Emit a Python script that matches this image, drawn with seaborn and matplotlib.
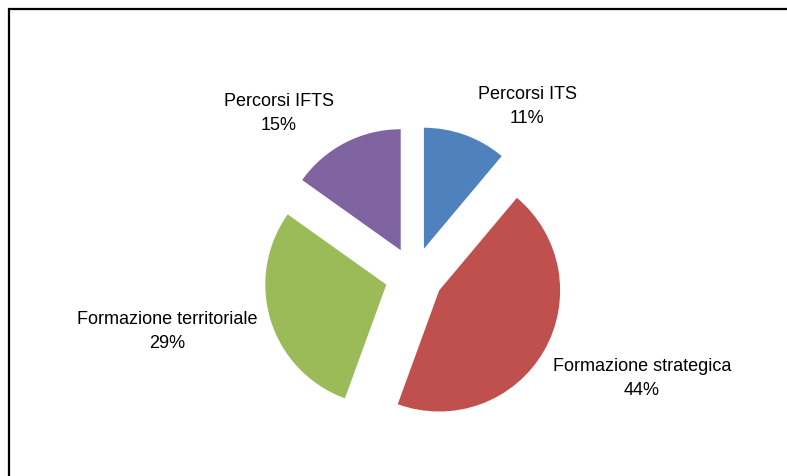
import numpy as np
import seaborn as sns
import matplotlib.pyplot as plt
from matplotlib.patches import Rectangle

# shares of the courses
categories = ["Percorsi ITS", "Formazione strategica", "Formazione territoriale", "Percorsi IFTS"]
values = [11, 44, 29, 15]
colors = ["#4F81BD", "#C0504D", "#9BBB59", "#8064A2"]

sns.set_style("white")
plt.rcParams['font.family'] = ['Liberation Sans', 'DejaVu Sans']

W, H = 787, 477
fig = plt.figure(figsize=(W / 100, H / 100), dpi=100)
ax = fig.add_axes([0, 0, 1, 1])

# explode is in data units (pixels here)
ax.pie(values, colors=colors, startangle=90, counterclock=False,
       explode=[29] * len(values), center=(414, H - 277), radius=121,
       wedgeprops=dict(linewidth=0), frame=True)
ax.set_xlim(0, W)
ax.set_ylim(0, H)
ax.set_aspect('equal')
ax.axis('off')

total = sum(values)
# last-line baseline of each label, in pixels from top
label_pos = [(527, 123), (642, 395), (167, 348), (279, 130)]
for name, v, (x, y) in zip(categories, values, label_pos):
    ax.text(x, H - y, f"{name}\n{round(100 * v / total)}%", ha='center', va='baseline',
            multialignment='center', fontsize=13, linespacing=1.55, color='black')

# chart border (cut on the right and bottom)
border = Rectangle((9 / W, -0.1), 1.2, (H - 10) / H + 0.1, transform=fig.transFigure,
                   fill=False, edgecolor='black', linewidth=1.6)
fig.add_artist(border)

fig.savefig("out.png", dpi=100)
